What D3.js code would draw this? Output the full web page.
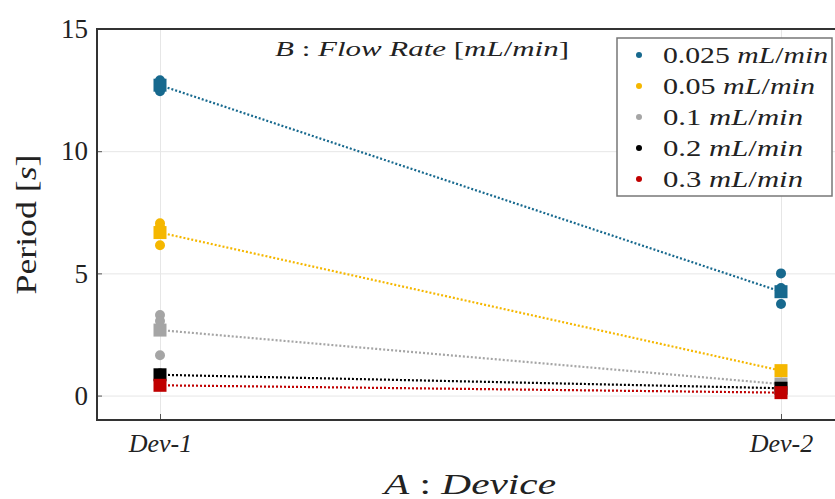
<!DOCTYPE html>
<html>
<head>
<meta charset="utf-8">
<script src="https://cdn.jsdelivr.net/npm/d3@7"></script>
<style>
  body { margin: 0; background: #fff; }
  svg { font-family: "Liberation Serif", serif; }
</style>
</head>
<body>
<div id="app"></div>
<script>
// devices on x, flow rates as series
const devices = ['Dev-1', 'Dev-2'];
const flowRates = ['0.025', '0.05', '0.1', '0.2', '0.3'];
const colors = ['#17698e', '#f5b700', '#a5a5a5', '#000000', '#c00000'];

// individual runs (circles)
const samplesDev1 = [[12.9, 12.75, 12.45], [7.05, 6.9, 6.15], [3.3, 3.05, 1.65], [0.9, 0.85], [0.45, 0.4]];
const samplesDev2 = [[5.0, 4.4, 3.75], [1.05, 0.95], [0.5, 0.45], [0.32, 0.28], [0.14, 0.1]];
// means (squares) joined by dotted lines
const meanDev1 = [12.7, 6.67, 2.68, 0.85, 0.42];
const meanDev2 = [4.25, 1.02, 0.47, 0.3, 0.12];

const yTicks = [0, 5, 10, 15];

const width = 835, height = 499;
const margin = { top: 29, bottom: 79, left: 97, right: -9 };

const svg = d3.select('#app').append('svg')
  .attr('width', width)
  .attr('height', height);

const x = d3.scalePoint()
  .domain(devices)
  .range([160, 781]);

const y = d3.scaleLinear()
  .domain([-1, 15])
  .range([height - margin.bottom, margin.top]);

const x0 = margin.left, x1 = width - margin.right;
const y0 = height - margin.bottom, y1 = margin.top;

// grid
svg.append('g')
  .attr('transform', `translate(0,${y0})`)
  .call(d3.axisBottom(x).tickSize(-(y0 - y1)).tickFormat(''))
  .call(g => g.select('.domain').remove())
  .call(g => g.selectAll('line').attr('stroke', '#e6e6e6').attr('stroke-width', 1));

svg.append('g')
  .attr('transform', `translate(${x0},0)`)
  .call(d3.axisLeft(y).tickValues(yTicks.slice(0, 3)).tickSize(-(x1 - x0)).tickFormat(''))
  .call(g => g.select('.domain').remove())
  .call(g => g.selectAll('line').attr('stroke', '#e6e6e6').attr('stroke-width', 1));

// dotted mean lines
const lineData = flowRates.map((f, i) => [[devices[0], meanDev1[i]], [devices[1], meanDev2[i]]]);
const line = d3.line().x(d => x(d[0])).y(d => y(d[1]));

flowRates.forEach((f, i) => {
  const g = svg.append('g');
  g.append('path')
    .attr('d', line(lineData[i]))
    .attr('fill', 'none')
    .attr('stroke', colors[i])
    .attr('stroke-width', 2.2)
    .attr('stroke-dasharray', '2,2');

  const pts = samplesDev1[i].map(v => [devices[0], v])
    .concat(samplesDev2[i].map(v => [devices[1], v]));
  g.selectAll('circle')
    .data(pts)
    .enter()
    .append('circle')
    .attr('cx', d => x(d[0]))
    .attr('cy', d => y(d[1]))
    .attr('r', 5)
    .attr('fill', colors[i]);

  const sq = 13;
  g.selectAll('rect')
    .data(lineData[i])
    .enter()
    .append('rect')
    .attr('x', d => x(d[0]) - sq / 2)
    .attr('y', d => y(d[1]) - sq / 2)
    .attr('width', sq)
    .attr('height', sq)
    .attr('fill', colors[i]);
});

// axes
const yAxis = svg.append('g')
  .attr('transform', `translate(${x0},0)`)
  .call(d3.axisLeft(y).tickValues(yTicks).tickSize(-5).tickPadding(9))
  .call(g => g.select('.domain').remove());
yAxis.selectAll('line').attr('stroke', '#555');
yAxis.selectAll('text')
  .attr('font-size', 27)
  .attr('font-family', '"Liberation Serif", serif')
  .attr('fill', '#222');

const xAxis = svg.append('g')
  .attr('transform', `translate(0,${y0})`)
  .call(d3.axisBottom(x).tickSize(-6).tickPadding(14))
  .call(g => g.select('.domain').remove());
xAxis.selectAll('line').attr('stroke', '#555');
xAxis.selectAll('text')
  .attr('font-size', 26)
  .attr('font-style', 'italic')
  .attr('font-family', '"Liberation Serif", serif')
  .attr('fill', '#222');

// spines
svg.append('path')
  .attr('d', `M${x1},${y1}H${x0}V${y0}H${x1}`)
  .attr('fill', 'none')
  .attr('stroke', '#333')
  .attr('stroke-width', 2);

// axis labels
const yl = svg.append('text')
  .attr('transform', `translate(36,${(y0 + y1) / 2}) rotate(-90)`)
  .attr('text-anchor', 'middle')
  .attr('font-size', 29)
  .attr('fill', '#222')
  .attr('textLength', 140)
  .attr('lengthAdjust', 'spacingAndGlyphs');
yl.append('tspan').text('Period [');
yl.append('tspan').attr('font-style', 'italic').text('s');
yl.append('tspan').text(']');

const xl = svg.append('text')
  .attr('x', 470)
  .attr('y', 494)
  .attr('text-anchor', 'middle')
  .attr('font-size', 29)
  .attr('fill', '#222')
  .attr('textLength', 172)
  .attr('lengthAdjust', 'spacingAndGlyphs');
xl.append('tspan').attr('font-style', 'italic').text('A');
xl.append('tspan').text(' :  ');
xl.append('tspan').attr('font-style', 'italic').text('Device');

const tl = svg.append('text')
  .attr('x', 422)
  .attr('y', 56)
  .attr('text-anchor', 'middle')
  .attr('font-size', 22)
  .attr('fill', '#222')
  .attr('textLength', 294)
  .attr('lengthAdjust', 'spacingAndGlyphs');
tl.append('tspan').attr('font-style', 'italic').text('B');
tl.append('tspan').text(' :  ');
tl.append('tspan').attr('font-style', 'italic').text('Flow Rate ');
tl.append('tspan').text('[');
tl.append('tspan').attr('font-style', 'italic').text('mL');
tl.append('tspan').text('/');
tl.append('tspan').attr('font-style', 'italic').text('min');
tl.append('tspan').text(']');

// legend
const legend = svg.append('g').attr('transform', 'translate(617,38)');
legend.append('rect')
  .attr('width', 215)
  .attr('height', 158)
  .attr('fill', '#fff')
  .attr('stroke', '#777')
  .attr('stroke-width', 1.5);

const rows = legend.selectAll('g.row')
  .data(flowRates)
  .enter()
  .append('g')
  .attr('class', 'row')
  .attr('transform', (d, i) => `translate(0,${17 + i * 31})`);

rows.append('circle')
  .attr('cx', 22)
  .attr('cy', 0)
  .attr('r', 3)
  .attr('fill', (d, i) => colors[i]);

// reference text widths per row
const legendWidths = [165, 152, 140, 140, 140];
const lt = rows.append('text')
  .attr('x', 46)
  .attr('y', 8)
  .attr('font-size', 24)
  .attr('fill', '#222')
  .attr('textLength', (d, i) => legendWidths[i])
  .attr('lengthAdjust', 'spacingAndGlyphs');
lt.append('tspan').text(d => d + ' ');
lt.append('tspan').attr('font-style', 'italic').text('mL');
lt.append('tspan').text('/');
lt.append('tspan').attr('font-style', 'italic').text('min');
</script>
</body>
</html>
